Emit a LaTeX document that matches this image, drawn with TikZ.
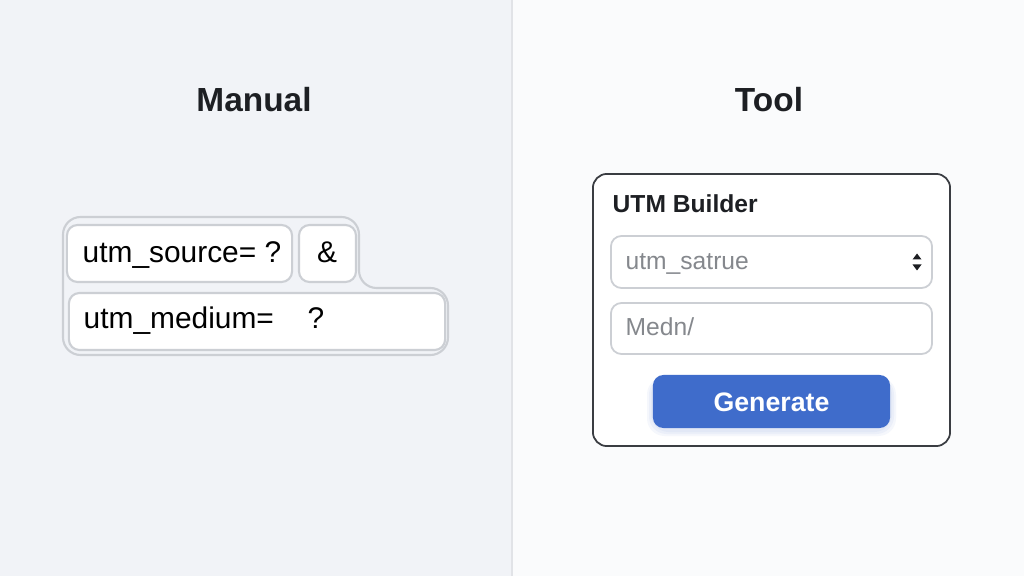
\documentclass[tikz,border=0pt]{standalone}
\usepackage{fontspec}
\setmainfont{Liberation Sans}
\usetikzlibrary{positioning}
\definecolor{leftbg}{HTML}{F1F3F7}
\definecolor{rightbg}{HTML}{FAFBFC}
\definecolor{divider}{HTML}{E1E3E7}
\definecolor{boxline}{HTML}{CCCFD4}
\definecolor{panelline}{HTML}{3A3D42}
\definecolor{hintgray}{HTML}{85888D}
\definecolor{btnblue}{HTML}{3F6CCB}
\definecolor{inkdark}{HTML}{1D1F23}
\tikzset{
  heading/.style={font=\fontsize{9.5}{11}\selectfont\bfseries, text=inkdark, inner sep=0pt, anchor=base},
  entry/.style={font=\fontsize{8.5}{10}\selectfont, text=black, inner sep=0pt, anchor=base west},
  hint/.style={font=\fontsize{7}{8.5}\selectfont, text=hintgray, inner sep=0pt, anchor=base west},
  chip/.style={draw=boxline, fill=white, rounded corners=3pt, line width=0.6pt, inner sep=0pt, minimum height=0.57cm},
  field/.style={draw=boxline, fill=white, rounded corners=3pt, line width=0.5pt, inner sep=0pt},
  button/.style={fill=btnblue, rounded corners=3pt, inner sep=0pt, text=white,
    font=\fontsize{7.6}{9}\selectfont\bfseries},
}

\begin{document}
\begin{tikzpicture}[x=0.01cm, y=-0.01cm]
  \useasboundingbox (0,0) rectangle (1024,576);
  % two halves
  \fill[rightbg] (0,0) rectangle (1024,576);
  \fill[leftbg] (0,0) rectangle (512,576);
  \draw[divider, line width=0.6pt] (512,0) -- (512,576);

  \node[heading] (manual) at (254,112) {Manual};
  \node[heading] (tool) at (769,112) {Tool};

  % manual side: query string pieces
  \draw[boxline, line width=0.6pt, rounded corners=5pt]
     (63,217) -- (359,217) -- (359,288) -- (448,288) -- (448,355) -- (63,355) -- cycle;
  \node[chip, minimum width=2.25cm] (srcbox) at (179.5,253.5) {};
  \node[chip, minimum width=0.57cm] (ampbox) at (327.5,253.5) {};
  \node[chip, minimum width=3.76cm] (medbox) at (257,321.5) {};
  \node[entry] (srctext) at (82,263) {utm\_source= ?};
  \node[entry, anchor=base] (amptext) at (327,263) {\&};
  \node[entry] (medtext) at (83,328) {utm\_medium=};
  \node[entry] (medask) at (307,328) {?};

  % tool side: builder form
  \node[draw=panelline, fill=white, line width=0.5pt, rounded corners=4pt, inner sep=0pt,
        minimum width=3.57cm, minimum height=2.72cm] (panel) at (771.5,310) {};
  \node[font=\fontsize{7}{8.5}\selectfont\bfseries, text=inkdark, inner sep=0pt, anchor=base west]
        (builder) at (612,213) {UTM Builder};
  \node[field, minimum width=3.21cm, minimum height=0.52cm] (select) at (771.5,262) {};
  \node[hint] (seltext) at (625,270) {utm\_satrue};
  \fill[inkdark] (912.5,259.5) -- (921.5,259.5) -- (917,253.5) -- cycle;
  \fill[inkdark] (912.5,264.5) -- (921.5,264.5) -- (917,270.5) -- cycle;
  \node[field, minimum width=3.21cm, minimum height=0.51cm] (medium) at (771.5,328.5) {};
  \node[hint] (medhint) at (625,336) {Medn/};
  % soft shadow under the button
  \foreach \s in {2,4,6}
    \fill[btnblue, opacity=0.05, rounded corners=5pt] (653-\s,377) rectangle (890+\s,430+\s);
  \node[button, minimum width=2.37cm, minimum height=0.53cm, text depth=0pt, text height=5.6pt]
        (generate) at (771.5,401.5) {Generate};
\end{tikzpicture}
\end{document}
